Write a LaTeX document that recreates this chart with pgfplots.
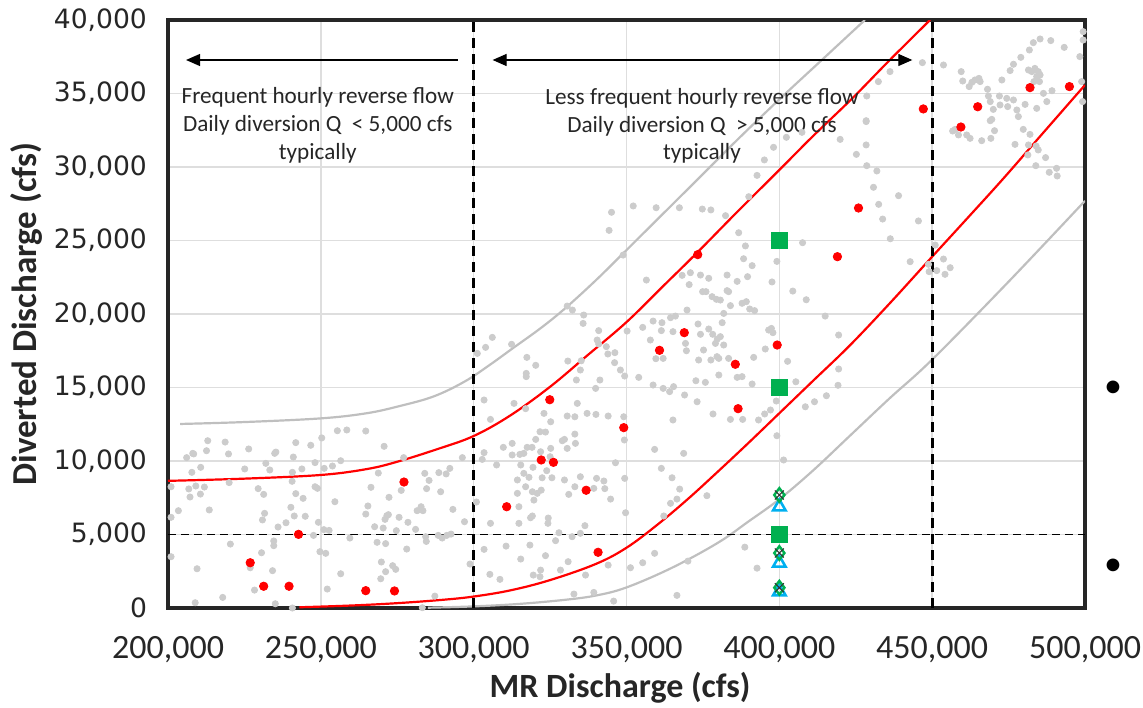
\documentclass[border=0pt]{standalone}
\usepackage{fontspec}
\setmainfont{Carlito}
\newfontfamily\verd{DejaVu Sans}
\usepackage{pgfplots}
\pgfplotsset{compat=1.18}
\usepackage{pgfplotstable}
\usetikzlibrary{arrows.meta}
\definecolor{dotgray}{RGB}{204,204,204}
\definecolor{curvegray}{RGB}{191,191,191}
\definecolor{mygreen}{RGB}{0,176,80}
\definecolor{myblue}{RGB}{0,176,240}
\definecolor{gridgray}{RGB}{222,222,222}

% x in thousands of cfs, y in cfs
\pgfplotstableread{
x y
206.1 10230
208.1 10520
208.4 10480
213.0 11380
212.6 10700
218.7 11290
219.8 10480
226.4 10820
235.3 10610
234.9 10520
241.8 11250
246.7 11070
250.3 11570
241.0 10270
232.0 9840
233.3 9390
225.1 9460
210.7 9570
207.8 9230
255.4 12060
258.5 12110
264.7 12040
270.7 11000
277.1 10230
256.5 10020
253.8 9660
251.1 9500
248.1 9890
243.8 9460
240.7 9230
248.1 8250
248.9 8140
241.8 7780
244.2 7460
240.6 8620
229.5 8120
231.3 7730
220.0 8530
206.8 8100
209.1 8300
211.9 8230
210.6 7750
207.2 7550
203.4 6620
213.5 6670
231.6 6440
230.9 5990
240.2 6850
241.3 6260
238.6 5800
236.0 5510
244.9 6240
249.2 5830
251.0 5330
254.6 7230
264.7 6390
265.4 6940
266.4 8210
268.8 9180
272.3 7530
276.3 8000
271.6 6280
271.0 6030
272.1 6350
275.6 6170
278.5 5830
281.5 6620
282.8 6890
283.4 6620
284.0 9160
285.4 8680
284.6 8120
288.6 9210
291.0 9120
292.2 9500
293.2 6710
289.2 7910
297.0 5870
296.3 10230
267.6 5530
270.4 5440
274.7 5260
281.0 5350
284.3 4850
284.5 4530
288.4 4940
289.7 4760
292.6 5030
291.2 4940
259.5 4760
252.7 5280
247.6 4940
220.4 4350
234.6 4560
234.6 4240
230.6 3760
234.2 2540
226.9 2740
209.5 2670
249.7 3830
251.6 3720
256.5 2330
268.4 4470
271.2 4380
278.1 4010
269.8 3130
271.2 2470
273.5 2880
274.5 2630
269.6 1990
252.1 1290
228.3 1220
217.9 720
208.9 360
235.1 290
287.3 810
283.2 20
240.7 0
201.0 8250
201.0 6170
201.0 3490
298.8 2990
345.1 26920
352.2 27350
359.7 27230
367.3 27230
374.8 27140
377.6 27080
344.3 25690
348.9 24010
356.5 22310
368.2 22630
370.9 22810
370.5 22000
374.2 22650
376.9 22430
374.9 21520
376.0 21520
379.4 21000
378.0 21180
330.6 20540
332.3 20270
336.0 19930
335.8 19360
312.4 17940
306.1 18410
303.9 17730
301.2 17320
340.9 18870
340.4 18230
340.9 17960
343.4 17780
343.9 17280
346.2 17370
346.1 16690
350.2 18840
355.3 19090
358.7 19520
361.6 19410
361.4 18870
364.4 19750
366.0 19860
365.2 18800
369.8 20270
373.4 19320
376.9 18980
378.2 18620
379.7 18300
374.2 18620
357.8 18230
359.6 16960
362.0 16980
369.6 17500
369.3 18000
375.2 17550
379.6 17100
377.6 16870
373.6 16870
317.4 17050
317.2 15960
317.2 15740
320.3 16510
330.8 16800
335.2 16820
334.9 16190
333.6 15510
341.3 15510
339.9 14940
349.4 15780
348.0 16190
354.0 15690
358.7 15170
362.0 14940
364.1 14720
369.0 14490
365.4 15060
372.7 15460
375.8 15350
373.1 14030
378.3 13200
365.2 12790
303.4 14150
305.5 12830
313.2 13920
317.0 13560
323.0 13240
325.2 12670
330.6 13060
333.9 13920
337.1 13240
340.0 13170
344.0 13060
349.1 13010
349.3 11430
333.1 13010
333.1 11830
329.7 11470
329.0 11380
333.3 11200
330.6 10860
325.2 10860
323.5 11970
321.7 11990
319.1 10930
317.5 10930
316.4 10520
315.1 10450
312.6 10410
309.7 10930
303.4 10570
302.8 10110
307.5 9730
312.6 11200
320.3 11470
321.9 10630
325.0 10290
323.9 9340
322.4 8860
325.6 8860
329.7 8710
334.9 8930
340.2 8820
342.6 8640
342.9 8120
344.8 7410
339.3 8140
333.1 8250
331.1 7730
322.1 8020
320.8 7800
319.2 7910
317.0 8250
314.3 8710
316.4 9160
315.4 9730
319.4 9570
318.1 8890
314.3 7800
319.7 7340
319.2 6260
318.6 6140
324.4 6120
324.3 5760
314.8 6890
314.8 5760
305.5 5760
300.9 7210
346.4 9880
349.4 8820
359.2 10790
361.4 9500
364.9 8860
368.7 10520
367.4 8090
376.3 7640
366.5 7410
364.4 7120
362.2 6260
349.7 6480
336.4 5600
334.9 5080
327.9 5120
332.2 4850
326.8 4580
318.4 4280
310.6 4210
303.4 3990
315.4 3330
323.5 3560
330.9 3150
328.4 2580
321.9 2580
321.7 2130
319.5 2240
305.3 2290
308.6 1950
336.6 2240
344.0 2920
351.3 2740
355.3 3080
359.2 3720
370.1 3190
366.5 860
345.8 470
339.3 1060
332.8 950
402.3 32020
398.1 31340
395.1 30480
392.7 29430
390.0 27980
382.4 26690
386.7 25530
388.9 24630
399.2 23580
388.3 23760
391.1 23290
382.9 22650
389.6 22540
386.2 22220
397.6 22180
404.4 21560
408.8 20970
382.9 21590
383.4 21520
380.7 20950
384.0 20570
387.8 20730
389.2 20840
390.3 20340
391.9 20230
381.8 20040
381.3 19410
397.4 19020
397.9 18730
396.5 18910
380.7 18460
381.8 17890
395.4 17620
391.6 17050
380.2 16980
379.1 18000
383.4 16980
386.2 15690
387.8 15740
380.2 15850
391.1 15240
402.7 16780
415.0 19860
419.4 18570
419.4 16260
405.4 15390
408.5 13690
411.5 14030
415.4 14440
419.2 15150
399.0 14080
397.1 13470
395.2 13200
393.2 12790
388.0 12830
384.0 12830
399.2 11720
401.4 10070
388.7 4140
392.7 2710
407.6 24850
428.4 33150
419.9 31880
428.4 31500
425.2 30860
431.9 29730
430.8 28620
432.5 27460
439.0 28050
433.8 26460
436.3 25120
445.5 26330
442.8 23560
448.8 23380
428.6 30090
446.8 37100
453.7 36940
459.5 36490
460.0 35850
462.1 35470
463.0 35760
464.0 35920
465.3 36030
465.7 35810
468.1 35290
468.4 34830
469.0 34450
470.0 33920
472.2 34220
472.0 34830
474.4 34670
474.7 34110
476.6 34560
477.7 33880
478.2 33430
472.8 35920
475.5 36560
476.6 36990
479.0 37460
481.8 37960
483.1 38460
485.3 38710
488.8 38600
493.2 38140
481.5 36600
482.6 36490
483.6 36710
484.7 36490
484.2 36150
483.3 35810
485.1 35810
485.3 36260
486.4 35010
489.2 35190
480.4 34260
484.2 33990
487.5 34450
469.5 33240
469.0 33150
470.4 32470
469.2 31950
466.2 31790
462.4 31950
461.3 32180
458.6 32180
457.5 32560
456.7 32450
479.8 32560
482.0 32220
477.1 31540
481.5 31500
484.0 31430
484.7 31160
481.3 30820
487.1 30640
483.9 30090
488.3 29640
490.7 29910
490.9 29390
498.3 37510
498.9 35810
499.2 34450
499.4 38640
499.4 39210
451.0 24690
453.7 23740
455.9 23150
451.5 22950
454.2 22700
449.0 22880
436.2 36490
432.4 35810
428.6 34830
428.4 33090
407.4 32360
}\graydots

\pgfplotstableread{
x y
226.9 3080
231.3 1480
239.6 1480
242.7 5010
264.7 1180
274.1 1160
277.2 8570
310.8 6890
322.1 10070
326.1 9910
324.9 14170
336.8 8010
340.7 3790
349.1 12270
360.8 17530
368.9 18730
373.3 24040
447.1 33950
425.9 27210
419.0 23900
399.3 17890
385.6 16580
386.5 13560
459.4 32720
464.9 34100
482.0 35400
494.9 35470
}\reddots

\pgfplotstableread{
x y
204.0 12520
225.0 12650
250.0 12900
265.0 13250
276.0 13750
287.0 14400
297.0 15400
305.0 16500
313.0 17700
322.0 19050
330.0 20400
340.0 22300
350.0 24350
365.0 27450
373.0 29100
386.0 31800
400.0 34600
414.0 37300
428.0 40000
}\uppergray

\pgfplotstableread{
x y
200.0 8650
225.0 8800
250.0 9050
265.0 9450
275.0 9950
288.0 10800
300.0 11700
312.0 13100
325.0 15050
337.0 17150
350.0 19450
362.0 21900
373.0 24150
386.0 26900
400.0 29800
411.0 32100
424.0 34700
436.0 37250
449.3 40000
}\upperred

\pgfplotstableread{
x y
243.0 50
260.0 170
275.0 330
290.0 560
300.0 780
312.0 1200
325.0 1900
340.0 3000
350.0 4100
360.0 5650
370.0 7400
380.0 9300
390.0 11250
400.0 13250
411.0 15450
423.0 17850
436.0 20700
450.0 23900
461.0 26400
473.0 29150
486.0 32250
500.0 35580
}\lowerred

\pgfplotstableread{
x y
285.0 20
300.0 110
315.0 280
330.0 560
340.0 850
350.0 1400
365.0 2750
380.0 4450
390.0 5900
400.0 7400
411.0 9350
423.0 11700
436.0 14250
450.0 16900
475.0 22200
500.0 27700
}\lowergray

\begin{document}
\begin{tikzpicture}
\useasboundingbox (-84pt,-49.5pt) rectangle (487.5pt,304pt);
\begin{axis}[
  at={(0,0)}, anchor=south west,
  scale only axis, width=458.5pt, height=294pt,
  xmin=200, xmax=500, ymin=0, ymax=40000,
  scaled x ticks=false, scaled y ticks=false,
  xtick={200,250,300,350,400,450,500},
  xticklabels={{200,000},{250,000},{300,000},{350,000},{400,000},{450,000},{500,000}},
  ytick={0,5000,10000,15000,20000,25000,30000,35000,40000},
  yticklabels={0,{5,000},{10,000},{15,000},{20,000},{25,000},{30,000},{35,000},{40,000}},
  grid=major, major grid style={draw=gridgray, line width=0.7pt},
  major tick length=0pt,
  axis line style={line width=2.2pt, draw=black!85},
  xticklabel style={font=\fontsize{17}{19}\selectfont, color=black!85, yshift=-10.5pt},
  yticklabel style={font=\verd\fontsize{13.3}{15}\selectfont, color=black!85, xshift=-7pt},
  xlabel={\textbf{MR Discharge (cfs)}},
  ylabel={\textbf{Diverted Discharge (cfs)}},
  every axis x label/.append style={at={(axis description cs:0.493,-0.136)}, anchor=center, font=\fontsize{17}{19}\selectfont, color=black!85},
  every axis y label/.append style={at={(axis description cs:-0.154,0.5)}, anchor=center, font=\fontsize{17.5}{19}\selectfont, color=black!85},
]
\addplot[only marks, color=dotgray, mark=*, mark size=1.55pt, mark options={draw=none, fill=dotgray}] table {\graydots};
\addplot[curvegray, line width=1.1pt, smooth, tension=0.6] table {\uppergray};
\addplot[curvegray, line width=1.1pt, smooth, tension=0.6] table {\lowergray};
\addplot[red, line width=1.1pt, smooth, tension=0.6] table {\upperred};
\addplot[red, line width=1.1pt, smooth, tension=0.6] table {\lowerred};
\addplot[only marks, color=red, mark=*, mark size=2.1pt, mark options={draw=none, fill=red}] table {\reddots};
% dashed reference lines
\addplot[black, line width=1.6pt, dash pattern=on 5pt off 3pt] coordinates {(300,0) (300,40000)};
\addplot[black, line width=1.6pt, dash pattern=on 5pt off 3pt] coordinates {(450,0) (450,40000)};
\addplot[black, line width=0.9pt, dash pattern=on 4pt off 2.5pt] coordinates {(200,5000) (500,5000)};
% markers at 400,000
\addplot[only marks, color=mygreen, mark=square*, mark size=4pt, mark options={draw=none, fill=mygreen}] coordinates {(400,25000) (400,15000) (400,5000)};
\addplot[only marks, color=myblue, mark=triangle, mark size=3.6pt, mark options={draw=myblue, line width=1.3pt}] coordinates {(400,6890) (400,3060) (400,1110)};
\addplot[only marks, color=mygreen, mark=diamond, mark size=3.4pt, mark options={draw=mygreen, line width=1.2pt}] coordinates {(400,7690) (400,3740) (400,1380)};
\addplot[only marks, color=black!80, mark=x, mark size=3.2pt, mark options={draw=black!80, line width=0.5pt}] coordinates {(400,7690) (400,3740) (400,1380)};
% annotations
\draw[line width=0.6pt, -{Triangle[length=7pt, width=6pt]}] (axis cs:294.8,37280) -- (axis cs:205.9,37280);
\draw[line width=0.6pt, {Triangle[length=7pt, width=6pt]}-{Triangle[length=7pt, width=6pt]}] (axis cs:306.2,37280) -- (axis cs:443.5,37280);
\node[align=center, font=\fontsize{11.6}{13.8}\selectfont, text=black!85] at (axis cs:249,32830) {Frequent hourly reverse flow\\Daily diversion Q\ \ < 5,000 cfs\\typically};
\node[align=center, font=\fontsize{11.6}{13.8}\selectfont, text=black!85] at (axis cs:374.7,32790) {Less frequent hourly reverse flow\\Daily diversion Q\ \ > 5,000 cfs\\typically};
\end{axis}
\node[font=\fontsize{18}{20}\selectfont] at (472.5pt,109.5pt) {•};
\node[font=\fontsize{18}{20}\selectfont] at (472.5pt,20.5pt) {•};
\end{tikzpicture}
\end{document}
